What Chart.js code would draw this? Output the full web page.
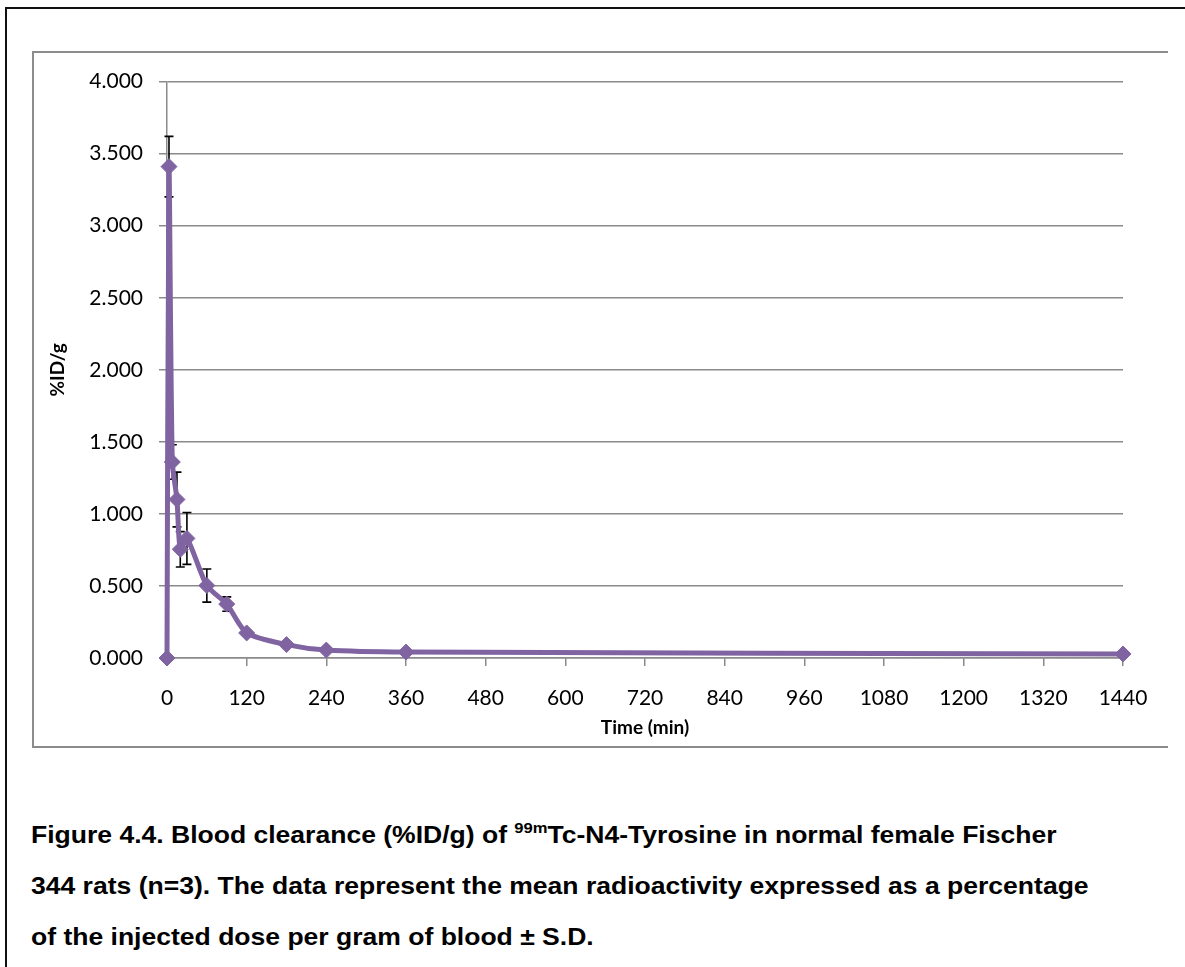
<!DOCTYPE html>
<html>
<head>
<meta charset="utf-8">
<script src="https://cdn.jsdelivr.net/npm/chart.js@4.4.0/dist/chart.umd.min.js"></script>
<style>
  body { margin: 0; background: #fff; }
  #frame {
    position: absolute; left: 5px; top: 7px; width: 1300px; height: 1100px;
    border-left: 2.5px solid #111; border-top: 2.5px solid #111;
  }
  #chartBox {
    position: absolute; left: 32px; top: 51px; width: 1134px; height: 693px;
    border-left: 2px solid #8c8c8c; border-top: 2px solid #8c8c8c; border-bottom: 2px solid #8c8c8c;
  }
  #caption {
    position: absolute; left: 31px; top: 809px; width: 1050px; white-space: nowrap;
    font-family: "Liberation Sans", Arial, sans-serif; font-weight: bold;
    font-size: 24px; line-height: 51px; color: #000;
    transform: scaleX(1.105); transform-origin: 0 0;
  }
  #caption sup { font-size: 15px; vertical-align: 10px; line-height: 0; }
</style>
</head>
<body>
<div id="frame"></div>
<div id="chartBox"><canvas id="clearanceChart"></canvas></div>
<div id="caption">
  Figure 4.4. Blood clearance (%ID/g) of <sup>99m</sup>Tc-N4-Tyrosine in normal female Fischer<br>
  344 rats (n=3). The data represent the mean radioactivity expressed as a percentage<br>
  of the injected dose per gram of blood ± S.D.
</div>

<script>
// time points (min), mean %ID/g and standard deviations
const times = [0, 3, 8, 15, 20, 30, 60, 90, 120, 180, 240, 360, 1440];
const meanIDg = [0, 3.41, 1.36, 1.10, 0.754, 0.83, 0.503, 0.374, 0.174, 0.093, 0.055, 0.041, 0.028];
const sdIDg = [0, 0.21, 0.12, 0.19, 0.123, 0.18, 0.115, 0.05, 0.02, 0.01, 0.006, 0.005, 0.004];

const xTicks = [0, 120, 240, 360, 480, 600, 720, 840, 960, 1080, 1200, 1320, 1440];
const yTicks = [0, 0.5, 1, 1.5, 2, 2.5, 3, 3.5, 4];

const PURPLE = "#8064A2";
const GRID = "#8a8a8a";

// draws the +/- SD whiskers under the line
const errorBars = {
  id: "errorBars",
  beforeDatasetsDraw(chart) {
    const ctx = chart.ctx;
    const xs = chart.scales.x, ys = chart.scales.y;
    ctx.save();
    ctx.strokeStyle = "#000";
    ctx.lineWidth = 1.6;
    times.forEach((t, i) => {
      const sd = sdIDg[i];
      if (!sd) return;
      const px = xs.getPixelForValue(t);
      const top = ys.getPixelForValue(meanIDg[i] + sd);
      const bot = ys.getPixelForValue(Math.max(0, meanIDg[i] - sd));
      ctx.beginPath();
      ctx.moveTo(px, top); ctx.lineTo(px, bot);
      ctx.moveTo(px - 4.5, top); ctx.lineTo(px + 4.5, top);
      ctx.moveTo(px - 4.5, bot); ctx.lineTo(px + 4.5, bot);
      ctx.stroke();
    });
    ctx.restore();
  }
};

new Chart(document.getElementById("clearanceChart"), {
  type: "line",
  data: {
    datasets: [{
      label: "Blood",
      data: times.map((t, i) => ({ x: t, y: meanIDg[i] })),
      borderColor: PURPLE,
      backgroundColor: PURPLE,
      borderWidth: 5,
      tension: 0.25,
      pointStyle: "rectRot",
      pointRadius: 8,
      pointBorderWidth: 1,
      fill: false,
      clip: false
    }]
  },
  options: {
    responsive: true,
    maintainAspectRatio: false,
    animation: false,
    layout: { padding: { top: 25, right: 45, left: 0, bottom: 0 } },
    plugins: { legend: { display: false }, tooltip: { enabled: false } },
    scales: {
      x: {
        type: "linear",
        min: 0, max: 1440,
        afterFit: s => { s.height = 88; },
        afterBuildTicks: s => { s.ticks = xTicks.map(v => ({ value: v })); },
        grid: { drawOnChartArea: false, drawTicks: true, tickLength: 8, color: GRID, lineWidth: 1.5 },
        border: { display: true, color: GRID, width: 1.5 },
        ticks: {
          color: "#000", padding: 20, maxRotation: 0, autoSkip: false,
          font: { family: "Lato", size: 21 },
          callback: v => String(v)
        },
        title: {
          display: true, text: "Time (min)", color: "#000",
          font: { family: "Lato", size: 19, weight: "bold" },
          padding: { top: 7, bottom: 7 }
        }
      },
      y: {
        min: 0, max: 4,
        afterFit: s => { s.width = 133; },
        afterBuildTicks: s => { s.ticks = yTicks.map(v => ({ value: v })); },
        grid: { color: GRID, lineWidth: 1.5, drawTicks: true, tickLength: 8 },
        border: { display: true, color: GRID, width: 1.5 },
        ticks: {
          color: "#000", padding: 16,
          font: { family: "Lato", size: 21 },
          callback: v => v.toFixed(3)
        },
        title: {
          display: true, text: "%ID/g", color: "#000",
          font: { family: "Lato", size: 19, weight: "bold" },
          padding: { top: 12, bottom: 12 }
        }
      }
    }
  },
  plugins: [errorBars]
});
</script>
</body>
</html>
